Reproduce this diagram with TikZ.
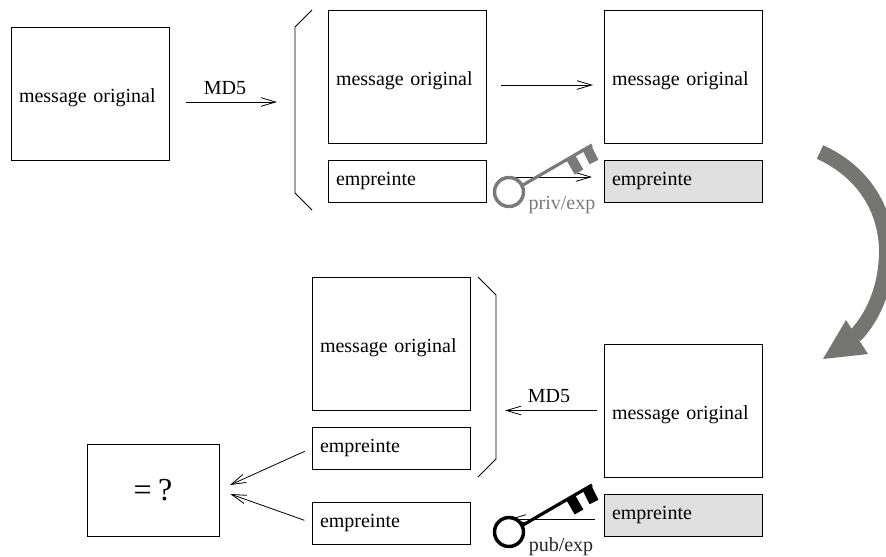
\documentclass[tikz,border=0pt]{standalone}
\usepackage{fontspec}
\setmainfont[WordSpace=0.8]{Liberation Serif}
\usetikzlibrary{arrows.meta}
\definecolor{grisclef}{HTML}{7A7A7A}
\definecolor{grisfleche}{HTML}{757573}
\definecolor{grisfond}{HTML}{E0E0E0}
\tikzset{
    msgbox/.style={draw, anchor=north west, align=left, outer sep=0pt, inner xsep=6pt, text width=106.5pt, text height=16pt, minimum height=99.75pt, font=\fontsize{15}{18}\selectfont},
    empbox/.style={msgbox, text height=10pt, minimum height=31.5pt},
    etiq/.style={font=\fontsize{15}{18}\selectfont, inner sep=0pt},
    fleche/.style={-{Straight Barb[length=11pt,width=6.5pt]}, line width=0.6pt},
    clef/.pic={
        \draw[line width=2.6pt] (0,0) circle (14.5);
        \draw[line width=2.4pt] (14,-7) -- (83,-47);
        \draw[line width=7.5pt] (62,-34) -- (70,-20);
        \draw[line width=7.5pt] (78,-44) -- (85,-30);
    }
}
\begin{document}
\begin{tikzpicture}[x=0.75pt, y=-0.75pt, line width=0.6pt]
    \clip (0,0) rectangle (886,557);

    \node[msgbox] (msgA) at (11,27) {message original};
    \node[msgbox] (msgB) at (328,10) {message original};
    \node[empbox] (empB) at (328,160) {empreinte};
    \node[msgbox] (msgC) at (604,10) {message original};
    \node[empbox, fill=grisfond] (empC) at (604,160) {empreinte};

    \node[msgbox] (msgD) at (312,277) {message original};
    \node[empbox] (empD) at (312,427) {empreinte};
    \node[empbox] (empE) at (312,502) {empreinte};
    \node[msgbox] (msgF) at (604,344) {message original};
    \node[empbox, fill=grisfond] (empF) at (604,494) {empreinte};
    \node[draw, outer sep=0pt, minimum width=99pt, minimum height=69pt, font=\fontsize{24}{28}\selectfont] (egal) at (153,490) {= ?};

    \node[etiq] (md5haut) at (225,88.5) {MD5};
    \node[etiq] (md5bas) at (549,396) {MD5};
    \node[etiq, text=grisclef] (priv) at (562,205) {priv/exp};
    \node[etiq, text=black!85] (pub) at (561,547) {pub/exp};

    \coordinate (debutA) at (186,102);
    \coordinate (finA) at (277,102);
    \coordinate (finF) at (505,410.5);
    \coordinate (finJ) at (510,519);

    \draw[fleche] (debutA) -- (finA);
    \draw[fleche, shorten <=11.25pt, shorten >=8.25pt] ([yshift=-6.4pt]msgB.east) -- ([yshift=-6.4pt]msgC.west);
    \draw[fleche, shorten <=12pt, shorten >=9pt] ([yshift=3pt]empB.east) -- ([yshift=3pt]empC.west);
    \draw[fleche, shorten <=5.25pt] (msgF.west) -- (finF);
    \draw[fleche, shorten <=6.75pt] (empF.west |- finJ) -- (finJ);
    \draw[fleche, shorten <=6pt, shorten >=9pt] (empD.west) -- (egal.east);
    \draw[fleche, shorten <=6pt, shorten >=9pt] (empE.west) -- (egal.east);

    \draw
        (312,10) -- (295,27) -- (295,193) -- (312,210)
        (478,277) -- (496,295) -- (496,459) -- (478,477)
    ;

    \pic[color=grisclef] at (509,192) {clef};
    \pic[color=black] at (509,532) {clef};

    \draw[grisfleche, line width=11.25pt]
        (820,152) .. controls (868,174) and (887,215) .. (886.5,253)
        .. controls (886,285) and (875,315) .. (855,336);
    \fill[grisfleche] (846,320) -- (868,354) -- (823,359) -- cycle;
\end{tikzpicture}
\end{document}
